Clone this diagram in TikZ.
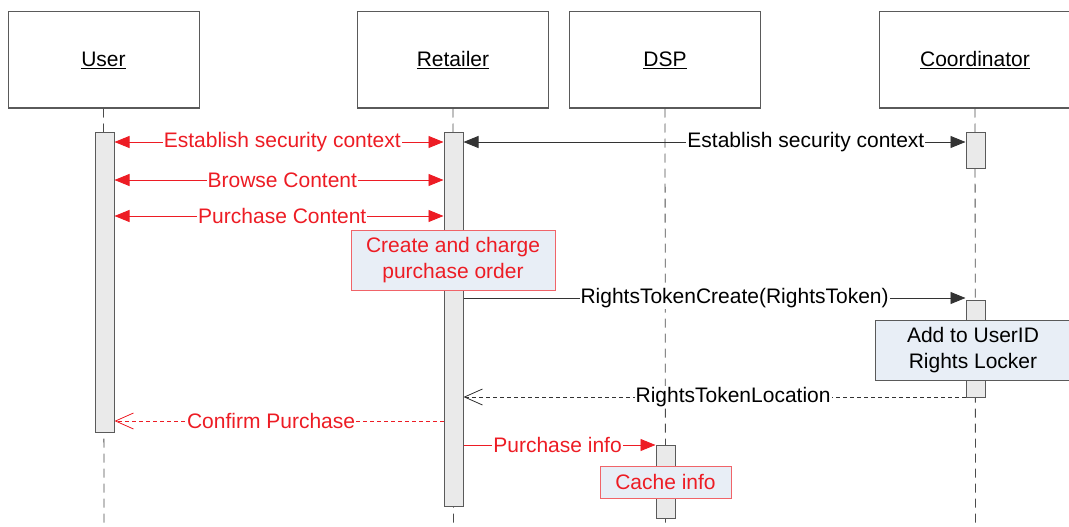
\documentclass[tikz,border=0pt]{standalone}
\usepackage{fontspec}
\setmainfont{Liberation Sans}
\usetikzlibrary{arrows.meta}
\definecolor{rd}{RGB}{237,28,36}
\definecolor{rdborder}{RGB}{240,100,105}
\definecolor{notefill}{RGB}{232,238,246}
\definecolor{actfill}{RGB}{234,234,234}
\definecolor{edgegray}{RGB}{90,90,90}
\begin{document}
\begin{tikzpicture}[x=1pt,y=-1pt,
  font=\fontsize{21}{26}\selectfont,
  obj/.style={draw=edgegray, line width=1pt, fill=white, minimum width=191pt, minimum height=96pt, inner sep=0pt},
  act/.style={draw=edgegray, line width=1pt, fill=actfill, minimum width=19pt, inner sep=0pt},
  life/.style={draw=black!70, line width=0.8pt, dash pattern=on 9pt off 6pt},
  redmsg/.style={draw=rd, line width=0.9pt},
  blkmsg/.style={draw=black!80, line width=0.9pt},
  fullhead/.style={-{Triangle[length=15pt,width=12pt]}},
  bothhead/.style={{Triangle[length=15pt,width=12pt]}-{Triangle[length=15pt,width=12pt]}},
  openhead/.style={-{Straight Barb[length=18pt,width=16pt,line width=0.8pt]}},
  lbl/.style={fill=white, inner sep=1pt},
  rednote/.style={draw=rdborder, line width=1pt, fill=notefill, text=rd, align=center, inner sep=0pt},
  graynote/.style={draw=edgegray, line width=1pt, fill=notefill, text=black, align=center, inner sep=0pt}
]
\useasboundingbox (0,0) rectangle (1069,527);

% objects
\node[obj] (user) at (103.5,60) {\underline{User}};
\node[obj] (retailer) at (453,60) {\underline{Retailer}};
\node[obj] (dsp) at (665,60) {\underline{DSP}};
\node[obj] (coord) at (975,60) {\underline{Coordinator}};

% lifeline ends
\coordinate (userend) at (104,527);
\coordinate (retend) at (453.5,527);
\coordinate (dspend) at (665.5,527);
\coordinate (coordend) at (975.5,527);
\draw[life] (user.south) -- (userend);
\draw[life] (retailer.south) -- (retend);
\draw[life] (dsp.south) -- (dspend);
\draw[life] (coord.south) -- (coordend);

% activation bars
\node[act, minimum height=300pt] (uact) at (104.5,282) {};
\node[act, minimum height=374pt] (ract) at (453.5,319) {};
\node[act, minimum height=36pt] (cact1) at (975.5,150) {};
\node[act, minimum height=97pt] (cact2) at (975.5,348.5) {};
\node[act, minimum height=73pt] (dact) at (665.5,481.5) {};

% message rows
\coordinate (m1) at (0,142);
\coordinate (m2) at (0,180);
\coordinate (m3) at (0,216);
\coordinate (m4) at (0,298);
\coordinate (m5) at (0,397);
\coordinate (m6) at (0,421);
\coordinate (m7) at (0,445);

\draw[redmsg, bothhead] (uact.east |- m1) -- node[lbl, text=rd, pos=0.51] {Establish security context} (ract.west |- m1);
\draw[blkmsg, bothhead] (ract.east |- m1) -- node[lbl, pos=0.682] {Establish security context} (cact1.west |- m1);
\draw[redmsg, bothhead] (uact.east |- m2) -- node[lbl, text=rd, pos=0.51] {Browse Content} (ract.west |- m2);
\draw[redmsg, bothhead] (uact.east |- m3) -- node[lbl, text=rd, pos=0.51] {Purchase Content} (ract.west |- m3);
\draw[blkmsg, fullhead] (ract.east |- m4) -- node[lbl, pos=0.54] {RightsTokenCreate(RightsToken)} (cact2.west |- m4);
\draw[blkmsg, openhead, dash pattern=on 4pt off 3pt] (cact2.west |- m5) -- node[lbl, pos=0.463] {RightsTokenLocation} (ract.east |- m5);
\draw[redmsg, openhead, dash pattern=on 4pt off 3pt] (ract.west |- m6) -- node[lbl, text=rd, pos=0.524] {Confirm Purchase} (uact.east |- m6);
\draw[redmsg, fullhead] (ract.east |- m7) -- node[lbl, text=rd, pos=0.49] {Purchase info} (dact.west |- m7);

% notes
\node[rednote, minimum width=204pt, minimum height=60pt] (order) at (453,260) {Create and charge\\purchase order};
\node[graynote, minimum width=196pt, minimum height=60pt] (locker) at (973,350) {Add to UserID\\Rights Locker};
\node[rednote, minimum width=131pt, minimum height=32pt] (cache) at (665.5,482) {Cache info};
\end{tikzpicture}
\end{document}
